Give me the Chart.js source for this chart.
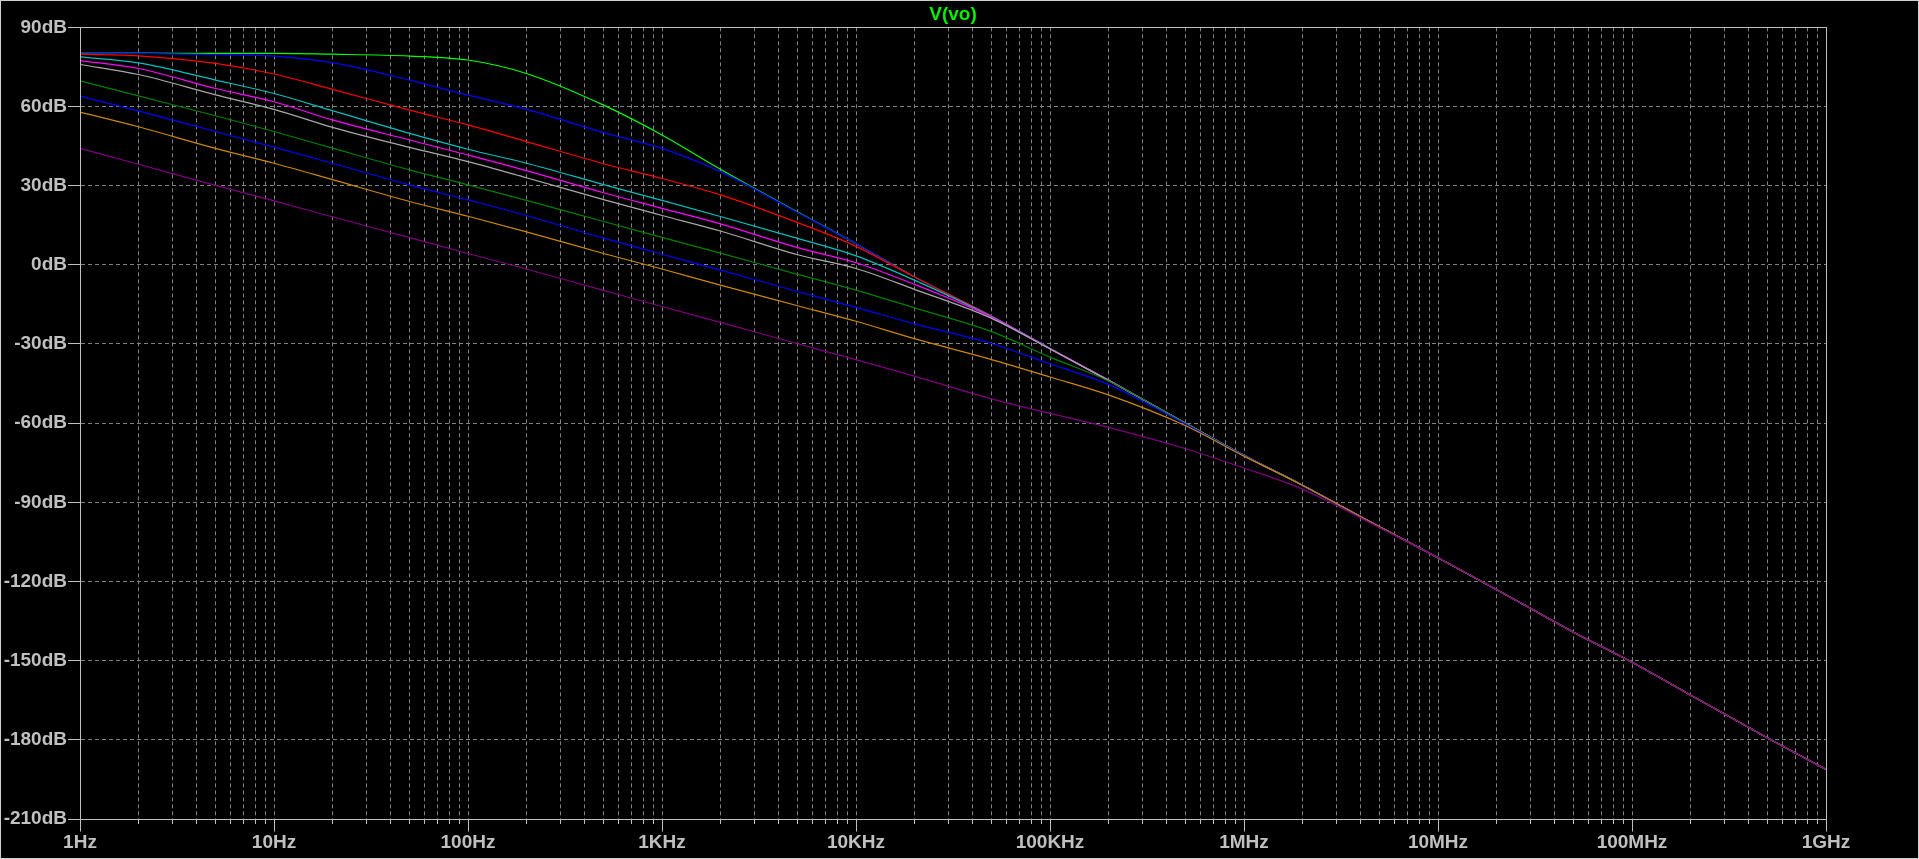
<!DOCTYPE html>
<html>
<head>
<meta charset="utf-8">
<title>V(vo)</title>
<script src="https://cdn.jsdelivr.net/npm/chart.js@4.4.1/dist/chart.umd.min.js"></script>
<style>
  html, body { margin: 0; padding: 0; background: #000; overflow: hidden; }
</style>
</head>
<body>
<canvas id="bode" width="1919" height="859"></canvas>
<script>
const freqs = [1, 2, 5, 10, 20, 50, 100, 200, 500,
               1e3, 2e3, 5e3, 1e4, 2e4, 5e4, 1e5, 2e5, 5e5,
               1e6, 2e6, 5e6, 1e7, 2e7, 5e7, 1e8, 2e8, 5e8, 1e9];

// Magnitude of V(vo) in dB, one array per step
const vStep1 = [80.2, 80.2, 80.1, 80.1, 79.8, 79.1, 77.6, 72.5, 60.5, 49.2, 36.2, 20.0, 8.0, -4.5, -19.5, -31.7, -43.7, -60.0, -72.2, -83.5, -99.3, -111.0, -123.0, -139.2, -150.6, -163.0, -179.3, -191.2];
const vStep2 = [80.2, 80.1, 79.6, 79.1, 76.6, 70.0, 64.3, 58.9, 50.1, 44.1, 35.3, 19.8, 8.0, -4.5, -19.5, -31.7, -43.7, -60.0, -72.2, -83.5, -99.3, -111.0, -123.0, -139.2, -150.6, -163.0, -179.3, -191.2];
const vStep3 = [79.8, 79.2, 76.3, 72.3, 66.5, 58.6, 53.0, 46.7, 38.3, 32.7, 26.5, 16.0, 7.0, -4.6, -19.5, -31.7, -43.7, -60.0, -72.2, -83.5, -99.3, -111.0, -123.0, -139.2, -150.6, -163.0, -179.3, -191.2];
const vStep4 = [78.8, 76.5, 70.0, 64.9, 58.4, 49.8, 43.8, 38.5, 30.4, 24.4, 18.3, 10.0, 3.4, -5.8, -19.6, -31.7, -43.7, -60.0, -72.2, -83.5, -99.3, -111.0, -123.0, -139.2, -150.6, -163.0, -179.3, -191.2];
const vStep5 = [77.4, 74.4, 66.8, 61.8, 54.9, 47.3, 41.6, 35.7, 27.3, 21.4, 15.5, 6.5, 0.8, -7.4, -19.8, -31.8, -43.7, -60.0, -72.2, -83.5, -99.3, -111.0, -123.0, -139.2, -150.6, -163.0, -179.3, -191.2];
const vStep6 = [75.9, 72.1, 64.4, 58.9, 52.1, 44.5, 39.1, 33.0, 24.7, 18.7, 12.8, 3.8, -1.4, -9.3, -20.3, -31.9, -43.8, -60.0, -72.2, -83.5, -99.3, -111.0, -123.0, -139.2, -150.6, -163.0, -179.3, -191.2];
const vStep7 = [69.7, 64.0, 56.5, 50.5, 44.2, 36.0, 30.3, 24.4, 16.4, 10.4, 4.4, -3.6, -9.6, -16.3, -25.3, -35.0, -44.0, -60.1, -72.2, -83.5, -99.3, -111.0, -123.0, -139.2, -150.6, -163.0, -179.3, -191.2];
const vStep8 = [63.9, 58.3, 50.5, 44.6, 38.5, 30.3, 24.6, 18.7, 10.1, 4.0, -2.0, -10.1, -16.1, -22.4, -29.8, -37.5, -45.3, -60.4, -72.3, -83.5, -99.3, -111.0, -123.0, -139.2, -150.6, -163.0, -179.3, -191.2];
const vStep9 = [57.9, 52.3, 44.1, 38.5, 32.3, 24.0, 18.4, 12.5, 4.3, -1.6, -7.7, -15.5, -21.4, -28.0, -35.9, -42.5, -49.3, -61.0, -72.5, -83.5, -99.3, -111.0, -123.0, -139.2, -150.6, -163.0, -179.3, -191.2];
const vStep10 = [44.1, 38.1, 30.1, 24.2, 18.2, 10.3, 4.3, -1.6, -9.7, -15.8, -21.8, -29.9, -35.9, -42.2, -50.8, -56.3, -61.6, -69.7, -77.0, -85.0, -99.6, -111.0, -123.0, -139.2, -150.6, -163.0, -179.3, -191.2];

// Axis ticks
const decadeFreqs = [1, 10, 100, 1e3, 1e4, 1e5, 1e6, 1e7, 1e8, 1e9];
const decadeLabels = ['1Hz', '10Hz', '100Hz', '1KHz', '10KHz', '100KHz', '1MHz', '10MHz', '100MHz', '1GHz'];
const dbTicks = [90, 60, 30, 0, -30, -60, -90, -120, -150, -180, -210];

const traces = [
    { label: 'step 1', color: '#00ff00', values: vStep1 },
    { label: 'step 2', color: '#0000ff', values: vStep2 },
    { label: 'step 3', color: '#ff0000', values: vStep3 },
    { label: 'step 4', color: '#00c0c0', values: vStep4 },
    { label: 'step 5', color: '#ff00ff', values: vStep5 },
    { label: 'step 6', color: '#a8a8a8', values: vStep6 },
    { label: 'step 7', color: '#008000', values: vStep7 },
    { label: 'step 8', color: '#0000ff', values: vStep8 },
    { label: 'step 9', color: '#cc8800', values: vStep9 },
    { label: 'step 10', color: '#800080', values: vStep10 }
];

const axisColor = '#c0c0c0';
const gridColor = '#808080';
const labelFont = { family: '"Liberation Sans", Arial, sans-serif', size: 19, weight: 'bold' };

function isDecade(v) {
    const l = Math.log10(v);
    return Math.abs(l - Math.round(l)) < 1e-9;
}

// half-pixel alignment like Chart.js does for 1px lines
function px(v) {
    return Math.round(v - 0.5) + 0.5;
}

// black background, plot frame, long decade ticks, window border
const framePlugin = {
    id: 'frame',
    beforeDraw(chart) {
        const ctx = chart.ctx;
        ctx.save();
        ctx.fillStyle = '#000';
        ctx.fillRect(0, 0, chart.width, chart.height);
        ctx.restore();
    },
    afterDraw(chart) {
        const { ctx, chartArea: a, scales } = chart;
        ctx.save();
        ctx.strokeStyle = axisColor;
        ctx.lineWidth = 1;
        ctx.setLineDash([]);
        const l = px(a.left), t = px(a.top), r = px(a.right), b = px(a.bottom);
        ctx.strokeRect(l, t, r - l, b - t);

        ctx.beginPath();
        scales.x.ticks.forEach(tick => {
            if (!isDecade(tick.value)) return;
            const x = px(scales.x.getPixelForValue(tick.value));
            ctx.moveTo(x, b);
            ctx.lineTo(x, b + 12);
        });
        ctx.stroke();

        ctx.strokeStyle = '#d0d0d0';
        ctx.strokeRect(0.5, 0.5, chart.width - 1, chart.height - 1);
        ctx.restore();
    }
};

const ctx = document.getElementById('bode').getContext('2d');

new Chart(ctx, {
    type: 'line',
    data: {
        datasets: traces.map((t, i) => ({
            label: t.label,
            data: freqs.map((f, k) => ({ x: f, y: t.values[k] })),
            borderColor: t.color,
            backgroundColor: t.color,
            borderWidth: 1.2,
            pointRadius: 0,
            fill: false,
            cubicInterpolationMode: 'monotone',
            order: traces.length - i   // last step drawn on top
        }))
    },
    options: {
        responsive: false,
        animation: false,
        events: [],
        layout: { padding: { left: 0, right: 93, top: 0, bottom: 0 } },
        scales: {
            x: {
                type: 'logarithmic',
                min: 1,
                max: 1e9,
                afterBuildTicks(scale) {
                    const ticks = [];
                    decadeFreqs.forEach(d => {
                        for (let m = 1; m <= 9; m++) {
                            if (d * m <= 1e9) ticks.push({ value: d * m, major: m === 1 });
                        }
                    });
                    scale.ticks = ticks;
                },
                afterFit(scale) { scale.height = 40; },
                border: { display: true, color: axisColor, width: 1, dash: [4, 3] },
                grid: { color: gridColor, lineWidth: 1, tickColor: axisColor, tickLength: 5, tickBorderDash: [] },
                ticks: {
                    autoSkip: false,
                    maxRotation: 0,
                    padding: 7,
                    color: axisColor,
                    font: labelFont,
                    callback(value) {
                        const idx = decadeFreqs.findIndex(d => Math.abs(d - value) < d * 1e-9);
                        return idx >= 0 ? decadeLabels[idx] : '';
                    }
                }
            },
            y: {
                type: 'linear',
                min: -210,
                max: 90,
                afterBuildTicks(scale) {
                    scale.ticks = dbTicks.map(v => ({ value: v }));
                },
                afterFit(scale) { scale.width = 80; },
                border: { display: true, color: axisColor, width: 1, dash: [4, 3] },
                grid: { color: gridColor, lineWidth: 1, tickColor: axisColor, tickLength: 12, tickBorderDash: [] },
                ticks: {
                    padding: 1,
                    color: axisColor,
                    font: labelFont,
                    callback(value) { return value + 'dB'; }
                }
            }
        },
        plugins: {
            legend: { display: false },
            tooltip: { enabled: false },
            title: {
                display: true,
                text: 'V(vo)',
                color: '#00f000',
                fullSize: false,
                font: { family: '"Liberation Sans", Arial, sans-serif', size: 19, weight: 'bold', lineHeight: 1.2 },
                padding: { top: 3, bottom: 1.5 }
            }
        }
    },
    plugins: [framePlugin]
});
</script>
</body>
</html>
